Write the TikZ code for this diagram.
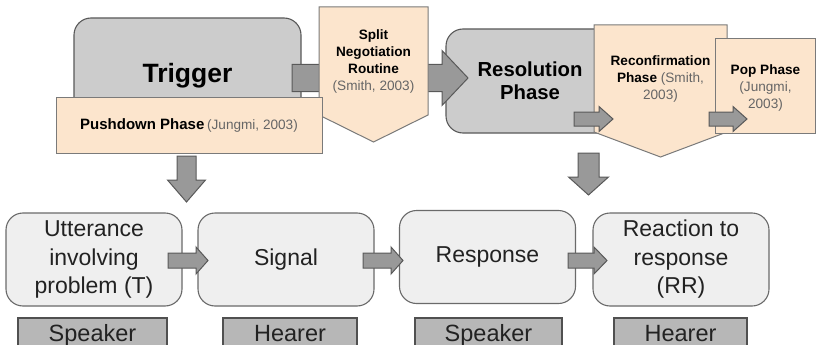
\documentclass[tikz,border=0pt]{standalone}
\usepackage{fontspec}
\setmainfont{Liberation Sans}
\usetikzlibrary{calc}
\definecolor{peach}{HTML}{FCE5CD}
\definecolor{peachline}{HTML}{7A7A7A}
\definecolor{boxgray}{HTML}{CCCCCC}
\definecolor{lightbox}{HTML}{EFEFEF}
\definecolor{labelgray}{HTML}{B7B7B7}
\definecolor{arrowgray}{HTML}{999999}
\definecolor{edgegray}{HTML}{595959}
\definecolor{citegray}{HTML}{666666}
\definecolor{txt}{HTML}{222222}
\tikzset{
  phasebox/.style={draw=edgegray, fill=boxgray, line width=1.1pt, rounded corners=17pt, inner sep=0pt, outer sep=0pt, align=center},
  peachbox/.style={draw=peachline, fill=peach, line width=1pt, inner sep=0pt, outer sep=0pt, align=center},
  peachshape/.style={draw=peachline, fill=peach, line width=1pt, line join=miter},
  smalltext/.style={inner sep=0pt, align=center, font=\fontsize{13.6}{17}\selectfont},
  stagebox/.style={draw=edgegray!90, fill=lightbox, line width=1.1pt, rounded corners=17pt, inner sep=0pt, outer sep=0pt, align=center, minimum width=176pt, minimum height=93pt, text=txt, font=\fontsize{23}{28.5}\selectfont},
  rolebox/.style={draw=edgegray!90!black, fill=labelgray, line width=1.1pt, inner sep=0pt, outer sep=0pt, minimum height=34pt, text=txt, text height=17pt, text depth=5pt, font=\fontsize{23.5}{28}\selectfont},
  blockarrow/.style={draw=edgegray, fill=arrowgray, line width=1pt, line join=miter}
}
% horizontal block arrow: start, tip, shaft half width, head half width, head length
\newcommand\blkH[5]{%
  \path[blockarrow] let \p1=(#1), \p2=(#2) in
    (\x1,\y1+#3pt) -- (\x2-#5pt,\y1+#3pt) -- (\x2-#5pt,\y1+#4pt) -- (\x2,\y1)
    -- (\x2-#5pt,\y1-#4pt) -- (\x2-#5pt,\y1-#3pt) -- (\x1,\y1-#3pt) -- cycle;}
% vertical (downward) block arrow
\newcommand\blkV[5]{%
  \path[blockarrow] let \p1=(#1), \p2=(#2) in
    (\x1-#3pt,\y1) -- (\x1-#3pt,\y2+#5pt) -- (\x1-#4pt,\y2+#5pt) -- (\x1,\y2)
    -- (\x1+#4pt,\y2+#5pt) -- (\x1+#3pt,\y2+#5pt) -- (\x1+#3pt,\y1) -- cycle;}
\begin{document}
\begin{tikzpicture}[x=1pt,y=-1pt]
\useasboundingbox (0,0) rectangle (816,345);
\fill[white] (0,0) rectangle (816,345);

% top phases
\node[phasebox, minimum width=227pt, minimum height=116pt, font=\fontsize{26.5}{30}\selectfont\bfseries] (trig) at (187.5,76) {Trigger};
\node[phasebox, minimum width=168pt, minimum height=104pt, font=\fontsize{20.3}{23}\selectfont\bfseries] (res) at (530,81) {Resolution\\Phase};

% arrow trigger -> resolution (behind split routine)
\coordinate (a1s) at (292,78);
\coordinate (a1e) at (468,78);
\blkH{a1s}{a1e}{13.5}{27.5}{26}

% split negotiation routine
\draw[peachshape] (319,7) -- (428,7) -- (428,115) -- (373.5,142) -- (319,115) -- cycle;
\node[smalltext] (split) at (373.5,61.5) {\bfseries Split\\\bfseries Negotiation\\\bfseries Routine\\\color{citegray}(Smith, 2003)};

% pushdown phase
\node[peachbox, minimum width=266pt, minimum height=56pt] (push) at (189,125)
  {{\fontsize{15}{18}\selectfont\bfseries Pushdown Phase} {\fontsize{13.6}{16}\selectfont\color{citegray}(Jungmi, 2003)}};

% reconfirmation phase
\draw[peachshape] (594,25) -- (727,25) -- (727,132) -- (660.5,157) -- (594,132) -- cycle;
\node[smalltext] (reconf) at (660.5,78.5) {\bfseries Reconfirmation\\{\bfseries Phase} {\color{citegray}(Smith,}\\\color{citegray}2003)};

% pop phase
\node[peachbox, minimum width=100pt, minimum height=94pt] (popbox) at (765,86) {};
\node[smalltext] (pop) at (765.5,87.5) {\bfseries Pop Phase\\\color{citegray}(Jungmi,\\\color{citegray}2003)};

% small arrows
\coordinate (a2s) at (574,119);
\coordinate (a2e) at (613,119);
\blkH{a2s}{a2e}{7}{12.5}{14}
\coordinate (a3s) at (709,119);
\coordinate (a3e) at (747,119);
\blkH{a3s}{a3e}{7}{12.5}{14}

% downward arrows
\coordinate (d1s) at (186.5,156);
\coordinate (d1e) at (186.5,202);
\blkV{d1s}{d1e}{9.5}{19}{22}
\coordinate (d2s) at (588.5,153);
\coordinate (d2e) at (588.5,195);
\blkV{d2s}{d2e}{10.5}{20}{18}

% stages
\node[stagebox] (utt) at (94,259.5) {Utterance\\involving\\problem (T)};
\node[stagebox] (sig) at (286,259.5) {Signal};
\node[stagebox] (resp) at (487.5,257) {Response};
\node[stagebox] (rr) at (681,259.5) {Reaction to\\response\\(RR)};

\coordinate (b1s) at (168,260.5);
\coordinate (b1e) at (208,260.5);
\blkH{b1s}{b1e}{7.5}{13.5}{12}
\coordinate (b2s) at (363,260.5);
\coordinate (b2e) at (403,260.5);
\blkH{b2s}{b2e}{7.5}{13.5}{12}
\coordinate (b3s) at (568,260.5);
\coordinate (b3e) at (607,260.5);
\blkH{b3s}{b3e}{7.5}{13.5}{13}

% roles
\node[rolebox, minimum width=149pt] (sp1) at (92.5,335) {Speaker};
\node[rolebox, minimum width=134pt] (he1) at (290,335) {Hearer};
\node[rolebox, minimum width=147pt] (sp2) at (488.5,335) {Speaker};
\node[rolebox, minimum width=133pt] (he2) at (680.5,335) {Hearer};
\end{tikzpicture}
\end{document}
